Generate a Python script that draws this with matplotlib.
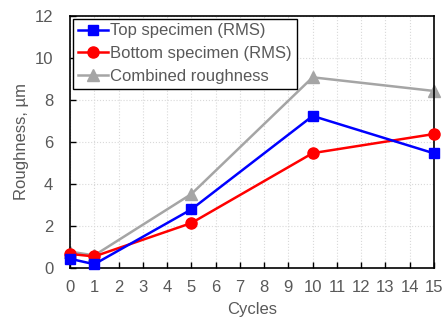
import matplotlib.pyplot as plt

plt.rcParams['font.family'] = ['Liberation Sans', 'DejaVu Sans']

cycles = [0, 1, 5, 10, 15]
top_rms = [0.44, 0.18, 2.79, 7.24, 5.46]
bottom_rms = [0.67, 0.55, 2.14, 5.47, 6.38]
combined = [0.78, 0.60, 3.52, 9.08, 8.43]

txt = '#595959'
fs = 12

fig = plt.figure(figsize=(4.44, 3.2), dpi=100)
ax = fig.add_axes([70 / 444, 1 - 268 / 320, 364 / 444, 252 / 320])

ax.plot(cycles, top_rms, color='#0000ff', marker='s', markersize=7.5, lw=1.8,
        label='Top specimen (RMS)', clip_on=False, zorder=4)
ax.plot(cycles, bottom_rms, color='#ff0000', marker='o', markersize=8, lw=1.8,
        label='Bottom specimen (RMS)', clip_on=False, zorder=3)
ax.plot(cycles, combined, color='#a5a5a5', marker='^', markersize=8, lw=1.8,
        label='Combined roughness', clip_on=False, zorder=2)

ax.set_xlim(0, 15)
ax.set_ylim(0, 12)
ax.set_xticks(range(0, 16))
ax.set_yticks(range(0, 13, 2))
ax.grid(True, color='#d9d9d9', linestyle=':', linewidth=0.8)
ax.set_axisbelow(True)

ax.tick_params(direction='in', length=4, width=1, colors='black',
               labelcolor=txt, labelsize=fs)
ax.tick_params(axis='x', pad=9)
ax.tick_params(axis='y', pad=12)
for s in ax.spines.values():
    s.set_linewidth(1.2)

ax.set_xlabel('Cycles', color=txt, fontsize=fs, labelpad=5)
ax.set_ylabel('Roughness, µm', color=txt, fontsize=fs, labelpad=4)

leg = ax.legend(loc='upper left', fontsize=fs, frameon=True, fancybox=False,
                edgecolor='black', framealpha=1, borderaxespad=0.15,
                handlelength=1.8, handletextpad=0.15, borderpad=0.3,
                labelspacing=0.45)
leg.get_frame().set_linewidth(1.0)
for t in leg.get_texts():
    t.set_color(txt)

fig.savefig('out.png', dpi=100)
